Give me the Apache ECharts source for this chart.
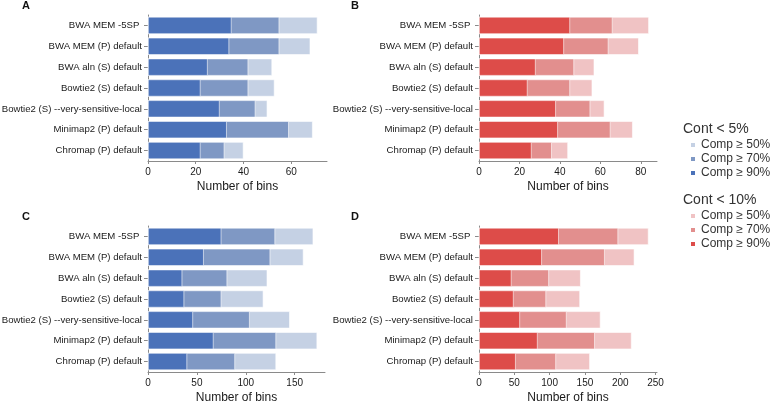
<!DOCTYPE html>
<html>
<head>
<meta charset="utf-8">
<script src="https://cdn.jsdelivr.net/npm/echarts@6/dist/echarts.min.js"></script>
<style>
  html, body { margin: 0; padding: 0; background: #fff; }
  #chart { width: 778px; height: 404px; }
</style>
</head>
<body>
<div id="chart"></div>
<script>
// 比对工具
const categories = [
  'BWA MEM -5SP ',
  'BWA MEM (P) default',
  'BWA aln (S) default',
  'Bowtie2 (S) default',
  'Bowtie2 (S) --very-sensitive-local',
  'Minimap2 (P) default',
  'Chromap (P) default'
];

// A: Cont < 5%
const a90 = [35, 34, 25, 22, 30, 33, 22];
const a70 = [55, 55, 42, 42, 45, 59, 32];
const a50 = [71, 68, 52, 53, 50, 69, 40];
// B: Cont < 10%
const b90 = [45, 42, 28, 24, 38, 39, 26];
const b70 = [66, 64, 47, 45, 55, 65, 36];
const b50 = [84, 79, 57, 56, 62, 76, 44];
// C: Cont < 5%
const c90 = [75, 57, 35, 37, 46, 67, 40];
const c70 = [130, 125, 81, 75, 104, 131, 89];
const c50 = [169, 159, 122, 118, 145, 173, 131];
// D: Cont < 10%
const d90 = [113, 89, 46, 49, 58, 83, 52];
const d70 = [197, 178, 99, 95, 124, 164, 109];
const d50 = [240, 220, 144, 143, 172, 216, 157];

// 刻度
const ticksA = [0, 20, 40, 60];
const ticksB = [0, 20, 40, 60, 80];
const ticksC = [0, 50, 100, 150];
const ticksD = [0, 50, 100, 150, 200, 250];

const legendNames = {
  b50: 'Comp ≥ 50%', b70: 'Comp ≥ 70%', b90: 'Comp ≥ 90%',
  r50: 'Comp ≥ 50%', r70: 'Comp ≥ 70%', r90: 'Comp ≥ 90%'
};

const BLUE = { b50: '#c5d1e4', b70: '#7f98c4', b90: '#4b72b9' };
const RED = { r50: '#f0c3c4', r70: '#e28f8e', r90: '#dd4c49' };

const FONT = 'Liberation Sans, Arial, sans-serif';
const AXIS_COLOR = '#8a8a8a';
const TEXT = '#1a1a1a';

const chart = echarts.init(document.getElementById('chart'), null, { renderer: 'canvas' });

const grids = [
  { left: 148, top: 15, width: 179, height: 146 },
  { left: 479, top: 15, width: 178, height: 146 },
  { left: 148, top: 226, width: 177, height: 146 },
  { left: 479, top: 226, width: 178, height: 146 }
];
grids.forEach(g => { g.containLabel = false; g.outerBoundsMode = 'none'; });

function xAxis(idx, max, ticks) {
  return {
    type: 'value', gridIndex: idx, min: 0, max: max,
    name: 'Number of bins', nameLocation: 'middle', nameGap: 20,
    nameTextStyle: { fontFamily: FONT, fontSize: 12, color: TEXT },
    axisLine: { show: true, lineStyle: { color: AXIS_COLOR, width: 1 } },
    axisTick: { show: true, length: 3, customValues: ticks, lineStyle: { color: AXIS_COLOR } },
    axisLabel: { customValues: ticks, fontFamily: FONT, fontSize: 10, color: TEXT, margin: 6 },
    splitLine: { show: false }
  };
}

function yAxis(idx) {
  return {
    type: 'category', gridIndex: idx, data: categories, inverse: true,
    axisLine: { show: true, lineStyle: { color: AXIS_COLOR, width: 1 } },
    axisTick: { show: true, length: 4, alignWithLabel: true, lineStyle: { color: AXIS_COLOR } },
    axisLabel: { fontFamily: FONT, fontSize: 9.6, color: TEXT, margin: 6 },
    splitLine: { show: false }
  };
}

function barSet(idx, names, colors, vals) {
  return names.map((n, i) => ({
    name: n, type: 'bar', xAxisIndex: idx, yAxisIndex: idx,
    data: vals[i], barGap: '-100%', barCategoryGap: '18%',
    itemStyle: { color: colors[n], borderColor: '#fff', borderWidth: 0.6 },
    emphasis: { disabled: true },
    z: 2 + i
  }));
}

const series = [].concat(
  barSet(0, ['b50', 'b70', 'b90'], BLUE, [a50, a70, a90]),
  barSet(1, ['r50', 'r70', 'r90'], RED, [b50, b70, b90]),
  barSet(2, ['b50', 'b70', 'b90'], BLUE, [c50, c70, c90]),
  barSet(3, ['r50', 'r70', 'r90'], RED, [d50, d70, d90])
);

function legend(top, names) {
  return {
    orient: 'vertical', left: 689, top: top,
    itemWidth: 6, itemHeight: 6, itemGap: 2, icon: 'rect',
    data: names, selectedMode: false, padding: 0,
    formatter: n => legendNames[n],
    textStyle: { fontFamily: FONT, fontSize: 12, color: '#333', padding: [0, 0, 0, 0] }
  };
}

function panelTitle(text, left, top, size, bold) {
  return {
    text: text, left: left, top: top, padding: 0,
    textStyle: { fontFamily: FONT, fontSize: size, fontWeight: bold ? 'bold' : 'normal', color: bold ? '#111' : '#333' }
  };
}

chart.setOption({
  backgroundColor: '#fff',
  animation: false,
  title: [
    panelTitle('A', 22, 0, 11, true),
    panelTitle('B', 351, 0, 11, true),
    panelTitle('C', 22, 211, 11, true),
    panelTitle('D', 351, 211, 11, true),
    panelTitle('Cont < 5%', 683, 122, 14, false),
    panelTitle('Cont < 10%', 683, 193, 14, false)
  ],
  legend: [
    legend(139, ['b50', 'b70', 'b90']),
    legend(210, ['r50', 'r70', 'r90'])
  ],
  grid: grids,
  xAxis: [xAxis(0, 75, ticksA), xAxis(1, 88, ticksB), xAxis(2, 181, ticksC), xAxis(3, 252, ticksD)],
  yAxis: [yAxis(0), yAxis(1), yAxis(2), yAxis(3)],
  series: series
});
</script>
</body>
</html>
